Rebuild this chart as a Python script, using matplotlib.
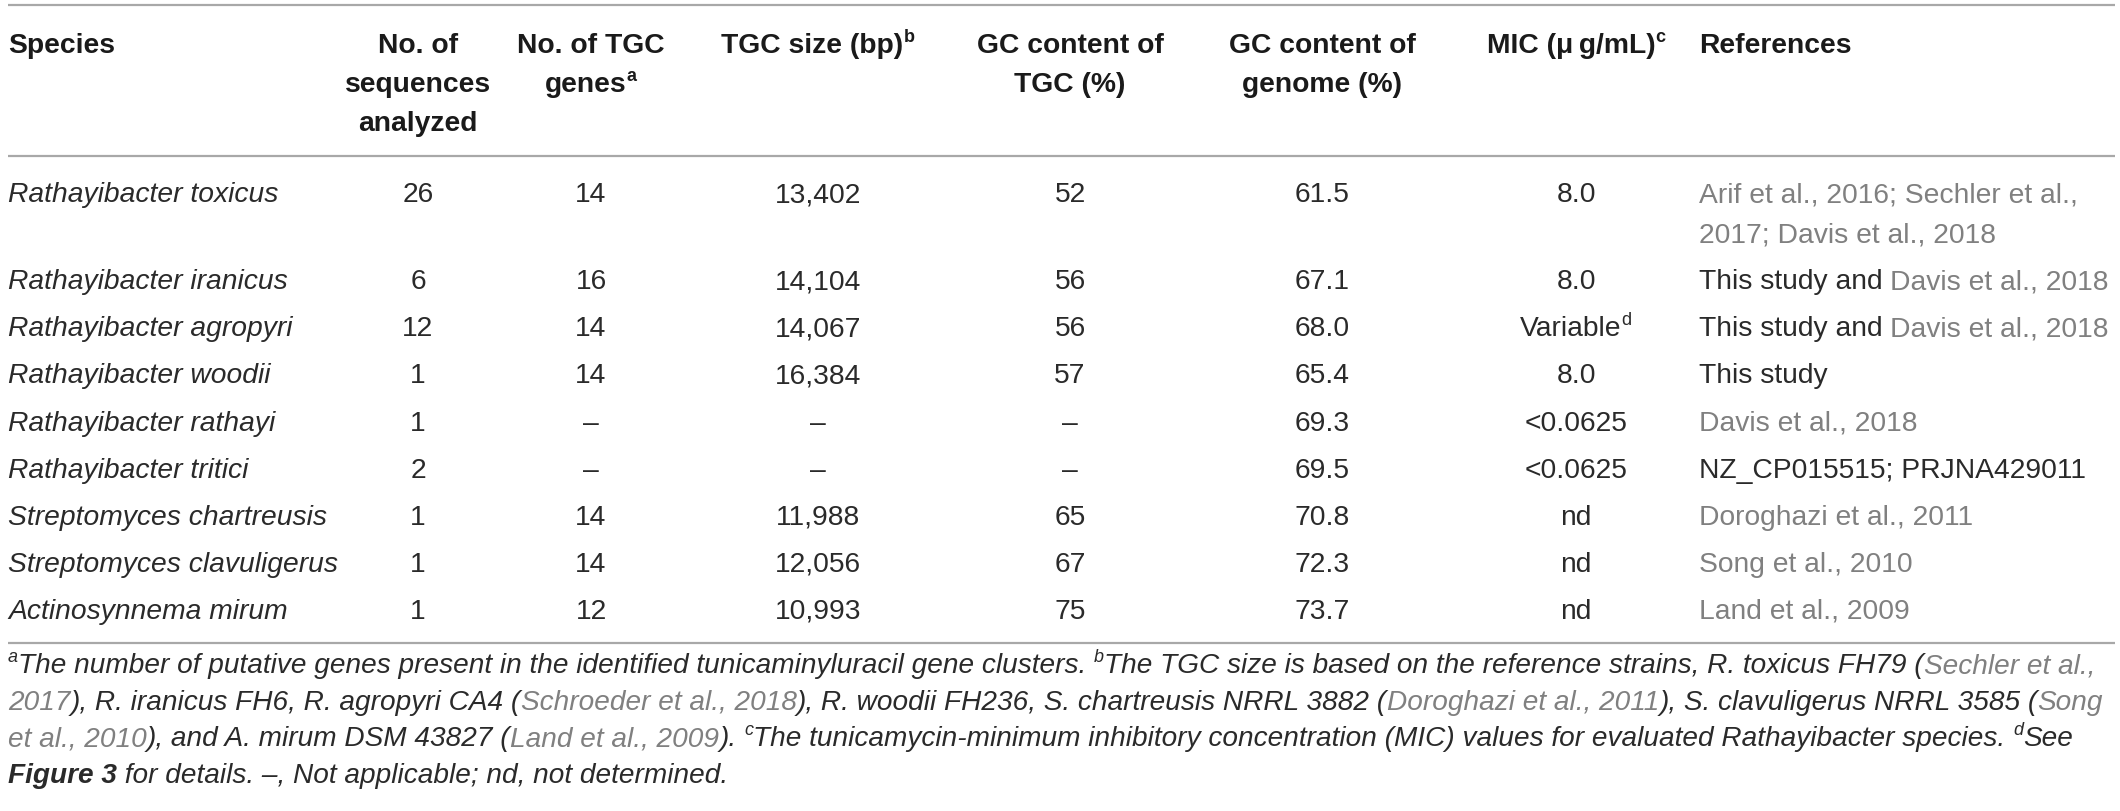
import matplotlib
matplotlib.use("Agg")
import matplotlib.pyplot as plt

plt.rcParams['font.family'] = ['Liberation Sans', 'DejaVu Sans']

INK = '#2a2a2a'
GRAY = '#808080'
RULE = '#a8a8a8'

# table content
species = ["Rathayibacter toxicus", "Rathayibacter iranicus", "Rathayibacter agropyri",
           "Rathayibacter woodii", "Rathayibacter rathayi", "Rathayibacter tritici",
           "Streptomyces chartreusis", "Streptomyces clavuligerus", "Actinosynnema mirum"]
n_sequences = ["26", "6", "12", "1", "1", "2", "1", "1", "1"]
n_genes = ["14", "16", "14", "14", "–", "–", "14", "14", "12"]
tgc_size = ["13,402", "14,104", "14,067", "16,384", "–", "–", "11,988", "12,056", "10,993"]
gc_tgc = ["52", "56", "56", "57", "–", "–", "65", "67", "75"]
gc_genome = ["61.5", "67.1", "68.0", "65.4", "69.3", "69.5", "70.8", "72.3", "73.7"]
mic = [[("8.0",)], [("8.0",)], [("Variable",), ("d", {'sup': True})], [("8.0",)],
       [("<0.0625",)], [("<0.0625",)], [("nd",)], [("nd",)], [("nd",)]]
references = [
    [[("Arif et al., 2016; Sechler et al.,", {'color': GRAY})],
     [("2017; Davis et al., 2018", {'color': GRAY})]],
    [[("This study and ",), ("Davis et al., 2018", {'color': GRAY})]],
    [[("This study and ",), ("Davis et al., 2018", {'color': GRAY})]],
    [[("This study",)]],
    [[("Davis et al., 2018", {'color': GRAY})]],
    [[("NZ_CP015515; PRJNA429011",)]],
    [[("Doroghazi et al., 2011", {'color': GRAY})]],
    [[("Song et al., 2010", {'color': GRAY})]],
    [[("Land et al., 2009", {'color': GRAY})]],
]

headers = [
    [[("Species",)]],
    [[("No. of",)], [("sequences",)], [("analyzed",)]],
    [[("No. of TGC",)], [("genes",), ("a", {'sup': True})]],
    [[("TGC size (bp)",), ("b", {'sup': True})]],
    [[("GC content of",)], [("TGC (%)",)]],
    [[("GC content of",)], [("genome (%)",)]],
    [[("MIC (μ\u2009g/mL)",), ("c", {'sup': True})]],
    [[("References",)]],
]

IT = {'style': 'italic'}
GI = {'style': 'italic', 'color': GRAY}
footnotes = [
    [("a", {'sup': True, 'style': 'italic'}),
     ("The number of putative genes present in the identified tunicaminyluracil gene clusters. ", IT),
     ("b", {'sup': True, 'style': 'italic'}),
     ("The TGC size is based on the reference strains, R. toxicus FH79 (", IT),
     ("Sechler et al.,", GI)],
    [("2017", GI), ("), R. iranicus FH6, R. agropyri CA4 (", IT), ("Schroeder et al., 2018", GI),
     ("), R. woodii FH236, S. chartreusis NRRL 3882 (", IT), ("Doroghazi et al., 2011", GI),
     ("), S. clavuligerus NRRL 3585 (", IT), ("Song", GI)],
    [("et al., 2010", GI), ("), and A. mirum DSM 43827 (", IT), ("Land et al., 2009", GI),
     ("). ", IT), ("c", {'sup': True, 'style': 'italic'}),
     ("The tunicamycin-minimum inhibitory concentration (MIC) values for evaluated Rathayibacter species. ", IT),
     ("d", {'sup': True, 'style': 'italic'}), ("See", IT)],
    [("Figure 3", {'weight': 'bold', 'style': 'italic'}), (" for details. –, Not applicable; nd, not determined.", IT)],
]

W, H = 2120, 811
fig = plt.figure(figsize=(W / 100, H / 100), dpi=100)
ax = fig.add_axes([0, 0, 1, 1])
ax.set_xlim(0, W)
ax.set_ylim(H, 0)
ax.axis('off')
renderer = fig.canvas.get_renderer()


def draw_runs(x, yc, runs, ha='left', size=20, **base):
    px = size * 100 / 72
    yb = yc + 0.36 * px
    objs = []
    for seg in runs:
        text = seg[0]
        kw = dict(seg[1]) if len(seg) > 1 else {}
        sup = kw.pop('sup', False)
        props = {'color': INK}
        props.update(base)
        props.update(kw)
        fs = size * 0.64 if sup else size
        dy = -0.40 * px if sup else 0
        t = ax.text(0, yb + dy, text, fontsize=fs, va='baseline', ha='left', **props)
        objs.append((t, t.get_window_extent(renderer).width))
    total = sum(w for _, w in objs)
    start = x - total / 2 if ha == 'center' else x
    for t, w in objs:
        t.set_x(start)
        start += w


col_x = [8, 418, 591, 818, 1070, 1322, 1576, 1699]
col_ha = ['left', 'center', 'center', 'center', 'center', 'center', 'center', 'left']

# rules
for yy in (5, 156, 643):
    ax.plot([8, 2115], [yy, yy], color=RULE, lw=1.6, solid_capstyle='butt')

# header
head_y = [43, 82, 121]
for c, lines in enumerate(headers):
    for i, runs in enumerate(lines):
        draw_runs(col_x[c], head_y[i], runs, ha=col_ha[c], size=20.3, weight='bold', color='#1a1a1a')

# body
y = 192
for r in range(len(species)):
    cells = [[[(species[r], {'style': 'italic'})]],
             [[(n_sequences[r],)]],
             [[(n_genes[r],)]],
             [[(tgc_size[r],)]],
             [[(gc_tgc[r],)]],
             [[(gc_genome[r],)]],
             [mic[r]],
             references[r]]
    for c, lines in enumerate(cells):
        for i, runs in enumerate(lines):
            draw_runs(col_x[c], y + i * 40, runs, ha=col_ha[c], size=20.3)
    y += 47.1 + 40 * (len(references[r]) - 1)

# footnotes
for i, runs in enumerate(footnotes):
    draw_runs(8, 663 + i * 36.7, runs, size=20.2)

fig.savefig("out.png", dpi=100, facecolor='white')
